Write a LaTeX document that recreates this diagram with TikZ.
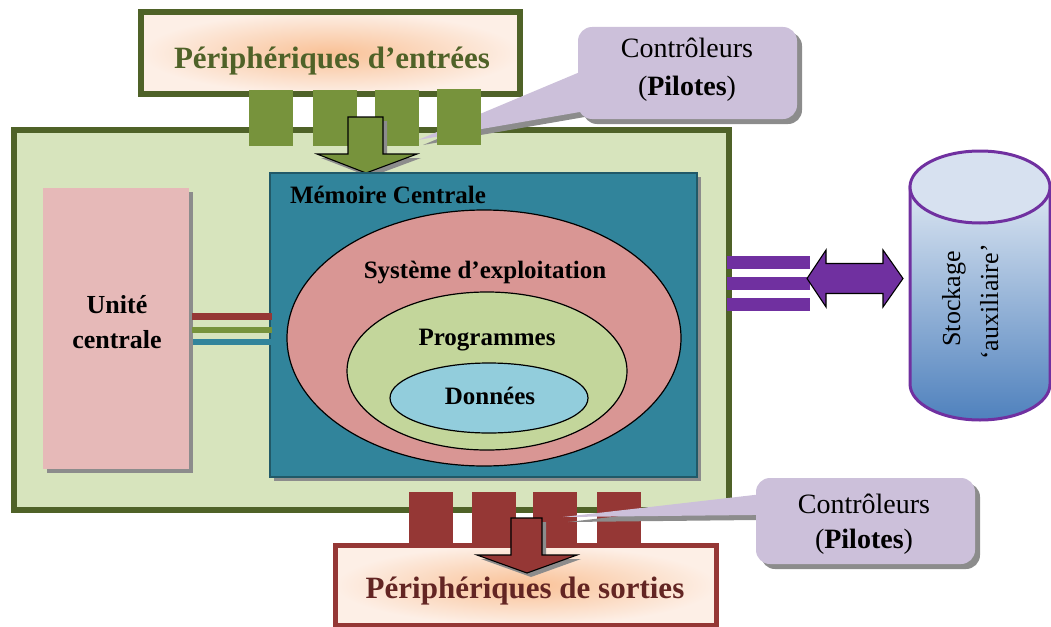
\documentclass[tikz,border=0pt]{standalone}
\usepackage{fontspec}
\setmainfont{Liberation Serif}
\usetikzlibrary{shapes.geometric,shadows,calc}

\definecolor{oliveDark}{HTML}{4F6228}
\definecolor{boardGreen}{HTML}{D7E4BD}
\definecolor{portGreen}{HTML}{77933C}
\definecolor{portRed}{HTML}{953735}
\definecolor{titleRed}{HTML}{632523}
\definecolor{cpuPink}{HTML}{E6B9B8}
\definecolor{memTeal}{HTML}{31849B}
\definecolor{memEdge}{HTML}{215968}
\definecolor{osPink}{HTML}{D99694}
\definecolor{progGreen}{HTML}{C3D69B}
\definecolor{dataBlue}{HTML}{92CDDC}
\definecolor{busPurple}{HTML}{7030A0}
\definecolor{calloutLilac}{HTML}{CCC0DA}
\definecolor{peachIn}{HTML}{F9C196}
\definecolor{peachOut}{HTML}{FDEFE6}
\definecolor{cylTop}{HTML}{DCE6F2}
\definecolor{cylBottom}{HTML}{4F81BD}
\definecolor{cylCap}{HTML}{D7E1F0}
\definecolor{shadowGray}{HTML}{8C8C8C}

\begin{document}
\begin{tikzpicture}[x=1pt,y=-1pt,
  every node/.style={inner sep=0pt,outer sep=0pt},
  shadowed/.style={general shadow={fill=shadowGray,shadow xshift=4pt,shadow yshift=-4pt}},
  deepshadow/.style={general shadow={fill=shadowGray,shadow xshift=5pt,shadow yshift=-5pt}},
  panel/.style={rectangle,line width=6pt},
  periph/.style={panel,shade,inner color=peachIn,outer color=peachOut},
  port/.style={rectangle,minimum width=44pt},
  inport/.style={port,fill=portGreen,minimum height=56pt},
  outport/.style={port,fill=portRed,minimum height=53pt},
  blockarrow/.style={draw=black,line width=1.1pt,line join=miter,shadowed},
  layer/.style={ellipse,draw=black,line width=1.2pt},
  bus/.style={line width=6.5pt,draw=#1},
  tape/.style={line width=13pt,draw=busPurple},
  calloutbox/.style={rectangle,rounded corners=14pt,fill=calloutLilac,deepshadow},
  pointer/.style={fill=calloutLilac,deepshadow},
  titlefont/.style={font=\fontsize{31}{37}\selectfont\bfseries},
  labelfont/.style={font=\fontsize{25}{30}\selectfont\bfseries},
  cpufont/.style={font=\fontsize{26}{31}\selectfont\bfseries},
  notefont/.style={font=\fontsize{28}{34}\selectfont},
  diskfont/.style={font=\fontsize{26}{31}\selectfont}]

\useasboundingbox (0,0) rectangle (1051,626);

% computer board
\node[panel,draw=oliveDark,fill=boardGreen,minimum width=715pt,minimum height=380pt] (board) at (371,320) {};

% peripheral panels
\node[periph,draw=oliveDark,minimum width=379pt,minimum height=82pt] (inbox) at (330.5,53) {};
\node[titlefont,text=oliveDark,anchor=base] (intitle) at (332,68) {Périphériques d’entrées};
\node[periph,draw=portRed,line width=5pt,minimum width=381pt,minimum height=80pt] (outbox) at (525.5,585) {};
\node[titlefont,text=titleRed,anchor=base] (outtitle) at (525,598) {Périphériques de sorties};

% driver callout, input side
\fill[pointer] (418,140) -- (600,63.6) -- (600,108.5) -- cycle;
\node[calloutbox,minimum width=219pt,minimum height=92pt] (drvIn) at (687.5,73) {};
\node[notefont,anchor=base] (drvInA) at (687,57) {Contrôleurs};
\node[notefont,anchor=base] (drvInB) at (687,95) {(\textbf{Pilotes})};

% input ports
\node[inport] (in1) at (271,117.5) {};
\node[inport] (in2) at (334.5,117.5) {};
\node[inport] (in3) at (396.5,117.5) {};
\node[inport] (in4) at (459,117) {};

% output ports
\node[outport] (out1) at (430.5,518.5) {};
\node[outport] (out2) at (493.5,518.5) {};
\node[outport] (out3) at (555,518.5) {};
\node[outport] (out4) at (618.5,518.5) {};

% driver callout, output side
\fill[pointer] (563,517) -- (780,492) -- (780,514.7) -- cycle;
\node[calloutbox,minimum width=219pt,minimum height=86pt] (drvOut) at (865.5,521) {};
\node[notefont,anchor=base] (drvOutA) at (864,513) {Contrôleurs};
\node[notefont,anchor=base] (drvOutB) at (864,548) {(\textbf{Pilotes})};

% flow arrows
\fill[blockarrow,fill=portGreen] (348,117) -- (383,117) -- (383,154) -- (417,154) -- (366,173)
  -- (317,154) -- (348,154) -- cycle;
\fill[blockarrow,fill=portRed] (511,518) -- (542,518) -- (542,555) -- (577,555) -- (527,573)
  -- (477,555) -- (511,555) -- cycle;

% central unit
\node[rectangle,fill=cpuPink,shadowed,minimum width=146pt,minimum height=281pt] (cpu) at (116,328.5) {};
\node[cpufont,anchor=base] (cpuA) at (117,313) {Unité};
\node[cpufont,anchor=base] (cpuB) at (117,348) {centrale};

% main memory
\node[rectangle,draw=memEdge,line width=1.2pt,fill=memTeal,shadowed,minimum width=427pt,minimum height=304pt] (mem) at (483.5,325) {};
\node[labelfont,anchor=base west] (memtitle) at (290,203) {Mémoire Centrale};
\node[layer,fill=osPink,minimum width=394pt,minimum height=256pt] (os) at (484,338) {};
\node[labelfont,anchor=base] (ostitle) at (485,278) {Système d’exploitation};
\node[layer,fill=progGreen,minimum width=280pt,minimum height=158pt] (prog) at (487,371) {};
\node[labelfont,anchor=base] (progtitle) at (487,345) {Programmes};
\node[layer,fill=dataBlue,minimum width=198pt,minimum height=70pt] (data) at (489,398) {};
\node[labelfont,anchor=base] (datatitle) at (490,404) {Données};

% bus between central unit and memory
\draw[bus=portRed] ($(cpu.east)+(3,-12)$) -- ($(mem.west)+(2,-8.5)$);
\draw[bus=portGreen] ($(cpu.east)+(3,1.5)$) -- ($(mem.west)+(2,5)$);
\draw[bus=memTeal] ($(cpu.east)+(4,13.5)$) -- ($(mem.west)+(4,17)$);

% storage link
\draw[tape] ($(board.east)+(-2,-57.5)$) -- ++(83,0) coordinate (t1);
\draw[tape] ($(board.east)+(-2,-36.5)$) -- ++(83,0) coordinate (t2);
\draw[tape] ($(board.east)+(-2,-16)$) -- ++(83,0) coordinate (t3);
\fill[draw=black,line width=1.1pt,fill=busPurple,line join=miter]
  (807,278.5) -- (826,250) -- (826,263.5) -- (883,263.5) -- (883,250) -- (903,278.5)
  -- (883,307) -- (883,293.5) -- (826,293.5) -- (826,307) -- cycle;

% auxiliary storage cylinder
\path[draw=busPurple,line width=3pt,top color=cylTop,bottom color=cylBottom]
  (910,187) -- (910,384) arc[start angle=180,end angle=0,x radius=70,y radius=36]
  -- (1050,187) -- cycle;
\draw[draw=busPurple,line width=3pt,fill=cylCap] (980,187) ellipse[x radius=70,y radius=36];
\node[diskfont,rotate=90,anchor=base] (diskA) at (960,299) {Stockage};
\node[diskfont,rotate=90,anchor=base] (diskB) at (998,302) {‘auxiliaire’};

\end{tikzpicture}
\end{document}
